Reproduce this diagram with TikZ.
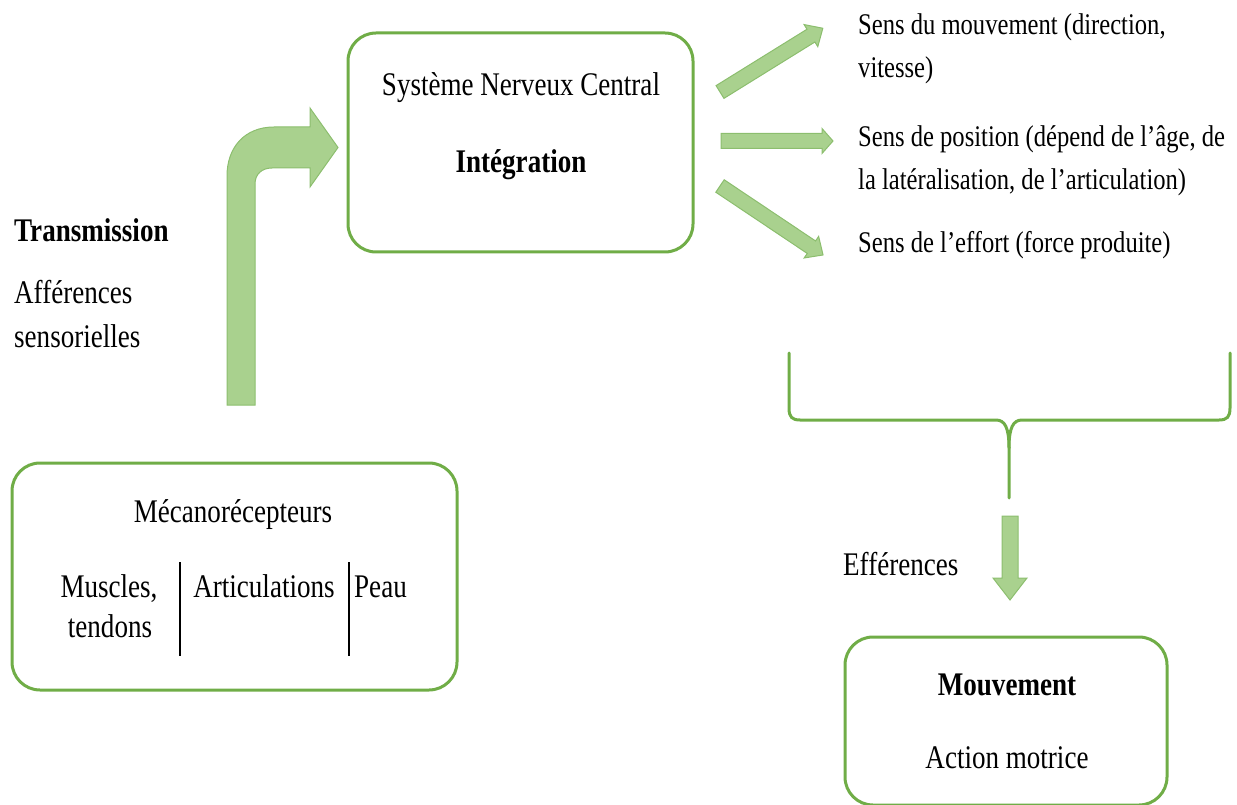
\documentclass[tikz,border=0pt]{standalone}
\usepackage{fontspec}
\setmainfont{Liberation Serif}[FakeStretch=0.82]
\usetikzlibrary{calc}
\definecolor{boxgreen}{RGB}{112,173,71}
\definecolor{arrowfill}{RGB}{169,209,142}
\definecolor{arrowline}{RGB}{140,190,110}
\tikzset{
  roundbox/.style={draw=boxgreen, line width=3pt, rounded corners=28pt, inner sep=0pt, fill=white},
  bigtxt/.style={inner sep=0pt, anchor=base, font=\fontsize{33}{40}\selectfont},
  bigleft/.style={inner sep=0pt, anchor=base west, font=\fontsize{33}{40}\selectfont},
  smalltxt/.style={inner sep=0pt, anchor=base west, font=\fontsize{30}{46}\selectfont},
  blockarrow/.style={fill=arrowfill, draw=arrowline, line width=1pt, line join=miter},
  bracestyle/.style={draw=boxgreen, line width=3pt, line cap=round},
  sepline/.style={draw=black, line width=1.5pt}
}
% #1 tail coordinate, #2 angle, #3 length, #4 shaft half width, #5 head half width, #6 head length
\newcommand\myblockarrow[6]{%
  \begin{scope}[shift={(#1)}, rotate=#2]
    \path[blockarrow] (0,-#4) -- ({#3-#6},-#4) -- ({#3-#6},-#5) -- (#3,0)
      -- ({#3-#6},#5) -- ({#3-#6},#4) -- (0,#4) -- cycle;
  \end{scope}}
\begin{document}
\begin{tikzpicture}[x=1pt,y=-1pt]
\useasboundingbox (0,0) rectangle (1237,805);

% boxes
\node[roundbox, minimum width=345pt, minimum height=219pt] (cns) at (520.5,142.5) {};
\node[roundbox, minimum width=445pt, minimum height=227pt] (meca) at (234.5,576.5) {};
\node[roundbox, minimum width=322pt, minimum height=168pt] (mouv) at (1006,721) {};

% CNS texts
\node[bigtxt] (cnsT) at (521,96) {Système Nerveux Central};
\node[bigtxt] (cnsI) at (521,173) {\bfseries Intégration};

% Mecanorecepteurs texts
\node[bigtxt] (mecaT) at (233,522) {Mécanorécepteurs};
\node[bigtxt] (musc1) at (109,597) {Muscles,};
\node[bigtxt] (musc2) at (110,637) {tendons};
\node[bigtxt] (artic) at (264,597) {Articulations};
\node[bigleft] (peau) at (354,597) {Peau};
\coordinate (s1t) at (180,562); \coordinate (s1b) at (180,656);
\coordinate (s2t) at (349,562); \coordinate (s2b) at (349,656);
\draw[sepline] (s1t) -- (s1b);
\draw[sepline] (s2t) -- (s2b);

% Mouvement texts
\node[bigtxt] (mouvT) at (1007,695) {\bfseries Mouvement};
\node[bigtxt] (mouvA) at (1007,768) {Action motrice};

% left texts
\node[bigleft] (trans) at (14,242) {\bfseries Transmission};
\node[bigleft] (aff1) at (14,303) {Afférences};
\node[bigleft] (aff2) at (14,347) {sensorielles};

% right texts
\node[smalltxt] (r1a) at (858,35) {Sens du mouvement (direction,};
\node[smalltxt] (r1b) at (858,78) {vitesse)};
\node[smalltxt] (r2a) at (858,147) {Sens de position (dépend de l’âge, de};
\node[smalltxt] (r2b) at (858,190) {la latéralisation, de l’articulation)};
\node[smalltxt] (r3) at (858,252) {Sens de l’effort (force produite)};

% Efferences text
\node[bigleft] (eff) at (843,575) {Efférences};

% bent arrow (afferences)
\path[blockarrow] (227,405) -- (227,176) .. controls (227,147) and (245,127) .. (274,127)
  -- (310,127) -- (310,108) -- (338,147.5) -- (310,187) -- (310,168) -- (272,168)
  .. controls (262,168) and (255,174) .. (255,184) -- (255,405) -- cycle;

% three arrows from CNS
\coordinate (a1) at (720,92);
\coordinate (a2) at (721,141);
\coordinate (a3) at (720,186);
\myblockarrow{a1}{31.8}{121}{7.5}{13}{14}
\myblockarrow{a2}{0}{112}{7.5}{12.5}{11}
\myblockarrow{a3}{-33.8}{124}{7.5}{13}{14}

% brace
\coordinate (brL) at (789,353);
\coordinate (brR) at (1230,353);
\coordinate (brB) at (1009,498);
\draw[bracestyle] (brL) -- (789,408) .. controls (789,417) and (792,420) .. (800,420)
  -- (996,420) .. controls (1005,420) and (1009,428) .. (1009,448) -- (brB);
\draw[bracestyle] (brR) -- (1230,408) .. controls (1230,417) and (1227,420) .. (1219,420)
  -- (1022,420) .. controls (1013,420) and (1009,428) .. (1009,448);

% efferences arrow
\coordinate (ef) at (1010,516);
\myblockarrow{ef}{-90}{84}{8}{17}{22}
\end{tikzpicture}
\end{document}
